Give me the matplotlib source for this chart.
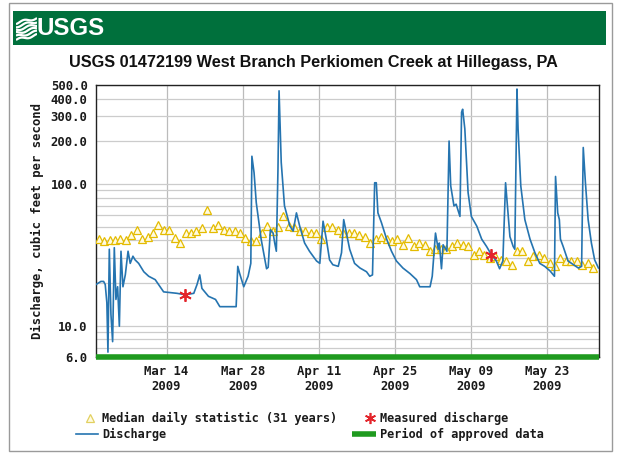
import numpy as np
import pandas as pd
import matplotlib
matplotlib.use("Agg")
import matplotlib.pyplot as plt
from matplotlib.lines import Line2D
from matplotlib.patches import Rectangle

# ---- data -------------------------------------------------------------
start_date = pd.Timestamp("2009-03-01")

# Median daily statistic (31 years), one value per day Mar 1 .. May 31
median_cfs = [
    40.8, 39.4, 40.2, 40.5, 40.8, 40.5, 43.3, 47.2, 41.0, 42.0,
    45.0, 51.0, 47.5, 47.5, 41.8, 38.3, 45.0, 45.0, 46.5, 49.0,
    66.0, 49.0, 51.0, 47.5, 46.5, 46.5, 45.0, 41.8, 39.4, 39.4,
    45.0, 50.4, 46.5, 49.3, 59.0, 50.4, 49.3, 46.5, 46.5, 45.0,
    45.0, 40.8, 49.3, 49.3, 47.5, 45.0, 45.0, 45.0, 43.9, 42.5,
    38.3, 40.8, 42.5, 40.8, 39.4, 40.8, 37.2, 41.8, 36.2, 38.3,
    37.2, 33.5, 34.6, 35.0, 34.6, 36.2, 38.3, 37.2, 36.2, 31.6,
    33.5, 31.6, 30.0, 30.9, 29.1, 28.6, 26.9, 33.5, 33.5, 28.6,
    30.9, 31.6, 30.0, 27.5, 26.2, 30.0, 28.6, 28.6, 28.6, 26.9,
    27.5, 25.5,
]

# Discharge record: elapsed days since Mar 1 and discharge (cfs)
discharge_days = [
    0.0, 0.9, 1.4, 1.7, 2.0, 2.2, 2.45, 2.75, 3.06, 3.37, 3.67, 3.98, 4.3,
    4.6, 4.96, 5.4, 5.9, 6.3, 6.8, 7.2, 7.85, 8.8, 9.7, 10.9, 11.8, 12.45,
    14.9, 16.45, 18.0, 18.6, 19.1, 19.5, 20.7, 22.0, 22.8, 25.8, 26.1,
    26.45, 26.8, 27.2, 28.0, 28.5, 28.7, 29.1, 29.5, 30.4, 31.4, 31.7,
    32.1, 32.6, 32.9, 33.2, 33.5, 33.7, 34.1, 34.7, 35.7, 36.3, 36.9,
    37.5, 38.4, 39.3, 40.6, 41.2, 41.8, 42.4, 43.0, 43.6, 44.6, 45.2,
    45.6, 46.1, 46.7, 47.6, 48.6, 49.8, 50.4, 50.9, 51.3, 51.6, 51.9,
    52.55, 53.5, 54.4, 55.3, 56.5, 57.8, 59.0, 59.6, 61.5, 61.9, 62.5,
    63.0, 63.2, 63.6, 63.9, 64.6, 65.0, 65.3, 65.9, 66.3, 67.0, 67.3,
    67.5, 67.9, 68.5, 69.1, 70.1, 71.0, 71.9, 72.8, 73.7, 74.3, 74.9,
    75.4, 75.8, 76.2, 76.8, 77.1, 77.5, 77.7, 78.2, 78.95, 79.9, 80.8,
    81.7, 82.6, 83.6, 84.4, 84.6, 85.0, 85.3, 85.5, 86.0, 86.9, 87.9,
    88.8, 89.4, 89.7, 90.1, 90.6, 91.2, 91.8, 92.5,
]
discharge_cfs = [
    19.5, 20.5, 20.5, 19.5, 14.5, 6.5, 34.6, 12.0, 7.7, 35.5, 15.3, 18.8, 9.9,
    33.5, 18.8, 22.9, 33.5, 27.5, 30.9, 29.1, 27.5, 24.0, 22.3, 21.1, 18.8, 17.3,
    16.9, 16.5, 16.9, 19.5, 22.8, 18.3, 16.1, 15.3, 13.6, 13.6, 26.2,
    23.3, 21.1, 18.8, 22.3, 27.5, 157.0, 120.0, 74.0, 40.8, 25.2, 25.8,
    47.5, 45.0, 38.3, 33.5, 127.0, 455.0, 142.0, 70.0, 50.4, 46.5, 62.5,
    50.4, 38.3, 33.5, 28.6, 27.5, 54.6, 40.8, 29.1, 26.9, 26.2, 32.7,
    56.0, 45.0, 34.6, 27.5, 25.5, 24.0, 22.3, 22.8, 102.0, 102.0, 62.5,
    53.3, 40.8, 33.5, 28.6, 25.5, 23.3, 21.1, 18.8, 18.8, 22.3, 45.0,
    34.6, 38.3, 25.2, 37.2, 33.5, 201.0, 97.0, 70.0, 72.0, 59.0, 321.0,
    337.0, 245.0, 87.0, 59.0, 50.4, 40.8, 36.2, 31.6, 28.6, 25.2, 28.6,
    102.0, 66.5, 42.5, 36.2, 34.6, 468.0, 245.0, 97.0, 56.0, 40.8, 32.7,
    27.5, 26.2, 24.3, 22.3, 113.0, 62.5, 56.0, 40.8, 36.2, 28.6, 26.9,
    25.5, 26.2, 181.0, 102.0, 56.0, 38.3, 29.1, 25.5,
]

# Field measurements
measured_days = [16.45, 72.8]
measured_cfs = [16.5, 31.6]

# Axis ticks
y_tick_values = [6, 10, 100, 200, 300, 400, 500]
y_grid_values = [6, 7, 8, 9, 10, 20, 30, 40, 50, 60, 70, 80, 90,
                 100, 200, 300, 400, 500]
x_tick_dates = ["2009-03-14", "2009-03-28", "2009-04-11",
                "2009-04-25", "2009-05-09", "2009-05-23"]
x_tick_labels = ["Mar 14\n2009", "Mar 28\n2009", "Apr 11\n2009",
                 "Apr 25\n2009", "May 09\n2009", "May 23\n2009"]

title_text = "USGS 01472199 West Branch Perkiomen Creek at Hillegass, PA"
y_label = "Discharge, cubic feet per second"

# ---- figure -----------------------------------------------------------
W, H = 617, 454
fig = plt.figure(figsize=(W / 100, H / 100), dpi=100)
fig.patch.set_facecolor("white")
renderer = fig.canvas.get_renderer()


def fx(px):
    return px / W


def fy(py):
    return 1 - py / H


def fit_width(txt, target_px):
    """Scale a text's font size so it spans target_px pixels."""
    w = txt.get_window_extent(renderer=renderer).width
    txt.set_fontsize(txt.get_fontsize() * target_px / w)


mono = "DejaVu Sans Mono"
sans = ["Liberation Sans", "DejaVu Sans"]

# outer frame
fig.add_artist(Rectangle((fx(9), fy(451)), fx(612) - fx(9), fy(3) - fy(451),
                         transform=fig.transFigure, fill=False,
                         edgecolor="#9a9a9a", lw=1.0, zorder=0))

# green banner
green = "#00703c"
fig.add_artist(Rectangle((fx(13), fy(45)), fx(606) - fx(13), fy(11) - fy(45),
                         transform=fig.transFigure, facecolor=green,
                         edgecolor="none", zorder=0))

# logo waves
logo_ax = fig.add_axes([fx(16), fy(41), fx(37) - fx(16), fy(16) - fy(41)])
logo_ax.set_axis_off()
logo_ax.set_zorder(10)
t = np.linspace(0, 1, 60)
for k in range(6):
    off = k * 0.17
    logo_ax.plot(t, 0.05 + off + 0.25 * t + 0.06 * np.sin(t * 2 * np.pi * 1.2 + k),
                 color="white", lw=1.6, solid_capstyle="butt")
logo_ax.set_xlim(0, 1)
logo_ax.set_ylim(0, 1.25)
logo_txt = fig.text(fx(37), fy(28.5), "USGS", color="white", fontsize=22,
                    fontweight="bold", family=sans, ha="left", va="center",
                    zorder=10)
fit_width(logo_txt, 68)

# title
title = fig.text(fx(313), fy(62), title_text, fontsize=13, fontweight="bold",
                 family=sans, ha="center", va="center", color="#111111")
fit_width(title, 486)

# ---- plot axes --------------------------------------------------------
ax = fig.add_axes([fx(96), fy(357), fx(599) - fx(96), fy(85) - fy(357)])
ax.set_yscale("log")
ax.set_ylim(6, 500)
x0 = start_date
x1 = start_date + pd.Timedelta(days=92.6)
ax.set_xlim(x0, x1)

ax.set_yticks(y_tick_values)
ax.set_yticklabels([f"{v:.1f}" for v in y_tick_values])
ax.set_yticks(y_grid_values, minor=True)
ax.yaxis.set_minor_formatter(plt.NullFormatter())
ax.set_xticks(pd.to_datetime(x_tick_dates))
ax.set_xticklabels(x_tick_labels)
ax.tick_params(axis="both", which="both", length=0)
ax.tick_params(axis="y", pad=6)
ax.tick_params(axis="x", pad=6)
for lab in ax.get_xticklabels() + ax.get_yticklabels():
    lab.set_family(mono)
    lab.set_fontweight("bold")
    lab.set_fontsize(8.8)
    lab.set_color("#1a1a1a")

ax.grid(axis="y", which="both", color="#cccccc", lw=0.9)
ax.grid(axis="x", which="major", color="#bbbbbb", lw=0.9)
ax.set_axisbelow(True)
for s in ax.spines.values():
    s.set_color("#222222")
    s.set_linewidth(1.0)

ax.set_ylabel(y_label, family=mono, fontweight="bold", fontsize=8.8,
              color="#1a1a1a", labelpad=8)
ax.yaxis.set_label_coords(-(96 - 44) / (599 - 96), 0.5)

median_dates = start_date + pd.to_timedelta(np.arange(len(median_cfs)) + 0.5, unit="D")
ax.plot(median_dates, median_cfs, ls="none", marker="^", ms=6,
        mfc="#fffbe0", mec="#e4bb00", mew=0.9, zorder=3)

discharge_dates = start_date + pd.to_timedelta(discharge_days, unit="D")
ax.plot(discharge_dates, discharge_cfs, color="#2574b0", lw=1.2, zorder=4)

measured_dates = start_date + pd.to_timedelta(measured_days, unit="D")
ax.plot(measured_dates, measured_cfs, ls="none", marker=(6, 2, 0), ms=9,
        color="#e3242b", mew=1.3, zorder=5)

# approved-data period along the bottom
ax.plot([x0, x1], [6, 6], color="#1f9a1f", lw=4, solid_capstyle="butt",
        clip_on=False, zorder=6)

# ---- legend -----------------------------------------------------------
leg_fs = 8.6
fig.add_artist(Line2D([fx(90)], [fy(418)], marker="^", ms=5.5, ls="none",
                      mfc="#fffbe0", mec="#e2d060", mew=0.9,
                      transform=fig.transFigure))
fig.text(fx(102), fy(418), "Median daily statistic (31 years)", family=mono,
         fontweight="bold", fontsize=leg_fs, va="center", color="#1a1a1a")
fig.add_artist(Line2D([fx(370)], [fy(418)], marker=(6, 2, 0), ms=8, ls="none",
                      color="#e3242b", mew=1.2, transform=fig.transFigure))
fig.text(fx(380), fy(418), "Measured discharge", family=mono,
         fontweight="bold", fontsize=leg_fs, va="center", color="#1a1a1a")
fig.add_artist(Line2D([fx(76), fx(98)], [fy(434), fy(434)], color="#2574b0",
                      lw=1.2, transform=fig.transFigure))
fig.text(fx(102), fy(434), "Discharge", family=mono,
         fontweight="bold", fontsize=leg_fs, va="center", color="#1a1a1a")
fig.add_artist(Line2D([fx(352), fx(376)], [fy(434), fy(434)], color="#1f9a1f",
                      lw=4, solid_capstyle="butt", transform=fig.transFigure))
fig.text(fx(380), fy(434), "Period of approved data", family=mono,
         fontweight="bold", fontsize=leg_fs, va="center", color="#1a1a1a")

fig.savefig("out.png", dpi=100, facecolor="white")
